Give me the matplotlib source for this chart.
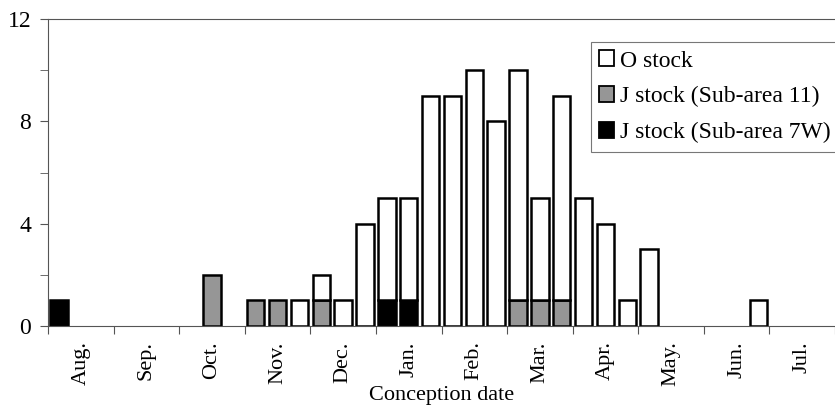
import numpy as np
import matplotlib
matplotlib.use('Agg')
import matplotlib.pyplot as plt
from matplotlib.patches import Patch

plt.rcParams['font.family'] = ['Liberation Serif', 'DejaVu Serif']

months = ['Aug.', 'Sep.', 'Oct.', 'Nov.', 'Dec.', 'Jan.',
          'Feb.', 'Mar.', 'Apr.', 'May.', 'Jun.', 'Jul.']

# ten-day periods, 3 per month -> 36 slots
o_stock = np.zeros(36)
j11 = np.zeros(36)
j7w = np.zeros(36)

o_vals = {11: 1, 12: 1, 13: 1, 14: 4, 15: 4, 16: 4, 17: 9, 18: 9, 19: 10, 20: 8,
          21: 9, 22: 4, 23: 8, 24: 5, 25: 4, 26: 1, 27: 3, 32: 1}
j11_vals = {7: 2, 9: 1, 10: 1, 12: 1, 21: 1, 22: 1, 23: 1}
j7w_vals = {0: 1, 15: 1, 16: 1}
for k, v in o_vals.items():
    o_stock[k] = v
for k, v in j11_vals.items():
    j11[k] = v
for k, v in j7w_vals.items():
    j7w[k] = v

slots = np.arange(36) + 0.5
gray = '#969696'
bw = 0.8
lw = 1.8

fig = plt.figure(figsize=(8.35, 4.08), dpi=100)
ax = fig.add_axes([0.0575, 0.201, 0.9425, 0.752])

m = j7w > 0
ax.bar(slots[m], j7w[m], bw, color='black', edgecolor='black', lw=lw)
m = j11 > 0
ax.bar(slots[m], j11[m], bw, bottom=j7w[m], color=gray, edgecolor='black', lw=lw)
m = o_stock > 0
ax.bar(slots[m], o_stock[m], bw, bottom=(j7w + j11)[m], color='white', edgecolor='black', lw=lw)

ax.set_xlim(0, 35.55)
ax.set_ylim(0, 12)
ax.set_yticks([0, 4, 8, 12])
ax.set_yticks([2, 6, 10], minor=True)
ax.set_xticks(np.arange(0, 37, 3))
ax.set_xticklabels([])
ax.set_xticks(np.arange(12) * 3 + 1.5, minor=True)
ax.set_xticklabels(months, minor=True, rotation=90, fontsize=16)
ax.tick_params(axis='x', which='major', length=6, color='#555555')
ax.tick_params(axis='x', which='minor', length=0, pad=11)
ax.tick_params(axis='y', which='both', length=6, color='#555555', labelsize=17, pad=6)

for s in ['left', 'bottom', 'top']:
    ax.spines[s].set_color('#555555')
ax.spines['right'].set_visible(False)

ax.set_xlabel('Conception date', fontsize=16, labelpad=0)

handles = [Patch(facecolor='white', edgecolor='black', lw=1.3, label='O stock'),
           Patch(facecolor=gray, edgecolor='black', lw=1.3, label='J stock (Sub-area 11)'),
           Patch(facecolor='black', edgecolor='black', lw=1.3, label='J stock (Sub-area 7W)')]
leg = ax.legend(handles=handles, loc='upper right', bbox_to_anchor=(1.005, 0.925),
                fontsize=17, handlelength=0.65, handleheight=0.65, handletextpad=0.25,
                fancybox=False, framealpha=1, edgecolor='#777777',
                borderpad=0.35, labelspacing=0.62, borderaxespad=0)
leg.get_frame().set_linewidth(0.8)

fig.savefig('out.png', dpi=100)
